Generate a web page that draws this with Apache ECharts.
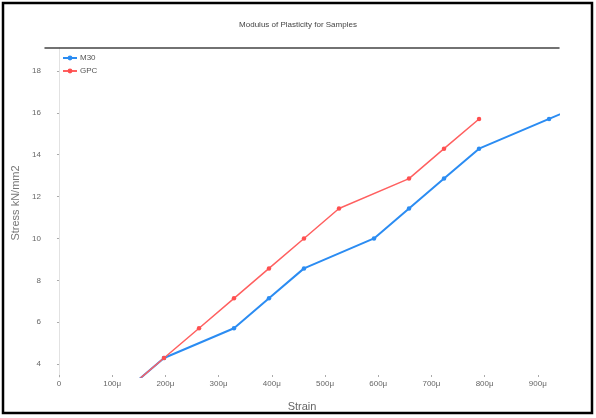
<!DOCTYPE html>
<html>
<head>
<meta charset="utf-8">
<script src="https://cdn.jsdelivr.net/npm/echarts@6/dist/echarts.min.js"></script>
<style>
html,body{margin:0;padding:0;background:#fff;}
#c{width:596px;height:418px;}
</style>
</head>
<body>
<div id="c"></div>
<script>
const titleText = 'Modulus of Plasticity for Samples';
const seriesNames = ['M30', 'GPC'];
const strainM30 = [0, 197.4, 328.9, 394.7, 460.5, 592.1, 657.9, 723.7, 789.5, 921.1, 1052.6];
const stressM30 = [0, 4.29, 5.71, 7.14, 8.57, 10.0, 11.43, 12.86, 14.29, 15.71, 17.14];
const strainGPC = [0, 197.4, 263.2, 328.9, 394.7, 460.5, 526.3, 657.9, 723.7, 789.5];
const stressGPC = [0, 4.29, 5.71, 7.14, 8.57, 10.0, 11.43, 12.86, 14.29, 15.71];
const xTicks = [0, 100, 200, 300, 400, 500, 600, 700, 800, 900];
const yTicks = [4, 6, 8, 10, 12, 14, 16, 18];
const xName = 'Strain';
const yName = 'Stress kN/mm2';

const pairs = (xs, ys) => xs.map((x, i) => [x, ys[i]]);
const FONT = 'Liberation Sans, Arial, sans-serif';
const xMin = -26.3, xMax = 939.8, yMin = 3.38, yMax = 19.1;

const chart = echarts.init(document.getElementById('c'));
chart.setOption({
  animation: false,
  backgroundColor: '#fff',
  textStyle: { fontFamily: FONT },
  title: {
    text: titleText, left: 'center', top: 16,
    textStyle: { fontSize: 8, fontWeight: 'normal', color: '#444', fontFamily: FONT }
  },
  legend: {
    data: seriesNames, orient: 'vertical', left: 57, top: 49,
    itemWidth: 14, itemHeight: 6, itemGap: 5,
    textStyle: { fontSize: 8, color: '#555', padding: [0, 0, 0, -2] }
  },
  grid: { left: 45, right: 37, top: 48, bottom: 41, containLabel: false },
  xAxis: [{
    type: 'value', min: xMin, max: xMax, position: 'bottom',
    name: xName, nameLocation: 'middle', nameGap: 24,
    nameTextStyle: { fontSize: 11, color: '#666' },
    axisLine: { show: false },
    axisTick: { show: true, inside: true, length: 2, customValues: xTicks, lineStyle: { color: '#aaa' } },
    axisLabel: { customValues: xTicks, fontSize: 8, color: '#666', margin: 3,
      formatter: v => v === 0 ? '0' : v + 'μ' },
    splitLine: { show: false }
  }, {
    type: 'value', min: xMin, max: xMax, position: 'top',
    axisLine: { show: true, lineStyle: { color: '#444', width: 1.5 } },
    axisTick: { show: false }, axisLabel: { show: false }, splitLine: { show: false }
  }],
  yAxis: [{
    type: 'value', min: yMin, max: yMax, position: 'left',
    axisLine: { show: true, lineStyle: { color: '#e2e2e2' } },
    axisTick: { show: true, length: 2, customValues: yTicks, lineStyle: { color: '#aaa' } },
    axisLabel: { customValues: yTicks, fontSize: 8, color: '#666', margin: 4 },
    splitLine: { show: false }
  }, {
    type: 'value', min: yMin, max: yMax, position: 'right',
    axisLine: { show: true, lineStyle: { color: '#e2e2e2' } },
    axisTick: { show: true, inside: true, length: 2, customValues: yTicks, lineStyle: { color: '#aaa' } },
    axisLabel: { show: false }, splitLine: { show: false }
  }],
  graphic: [
    { type: 'rect', shape: { x: 3, y: 3, width: 589, height: 410 },
      style: { fill: 'none', stroke: '#000', lineWidth: 2.5 }, z: 100 },
    { type: 'text', x: 16, y: 203, rotation: Math.PI / 2,
      style: { text: yName, fontSize: 11, fill: '#777', fontFamily: FONT,
        textAlign: 'center', textVerticalAlign: 'middle' } }
  ],
  series: [{
    name: seriesNames[0], type: 'line', data: pairs(strainM30, stressM30),
    symbol: 'circle', symbolSize: 4.5, clip: true,
    itemStyle: { color: '#2b8cf2' }, lineStyle: { color: '#2b8cf2', width: 2 }
  }, {
    name: seriesNames[1], type: 'line', data: pairs(strainGPC, stressGPC),
    symbol: 'circle', symbolSize: 4.5, clip: true,
    itemStyle: { color: '#ff4f4f' }, lineStyle: { color: '#ff6060', width: 1.5 }
  }]
});
</script>
</body>
</html>
